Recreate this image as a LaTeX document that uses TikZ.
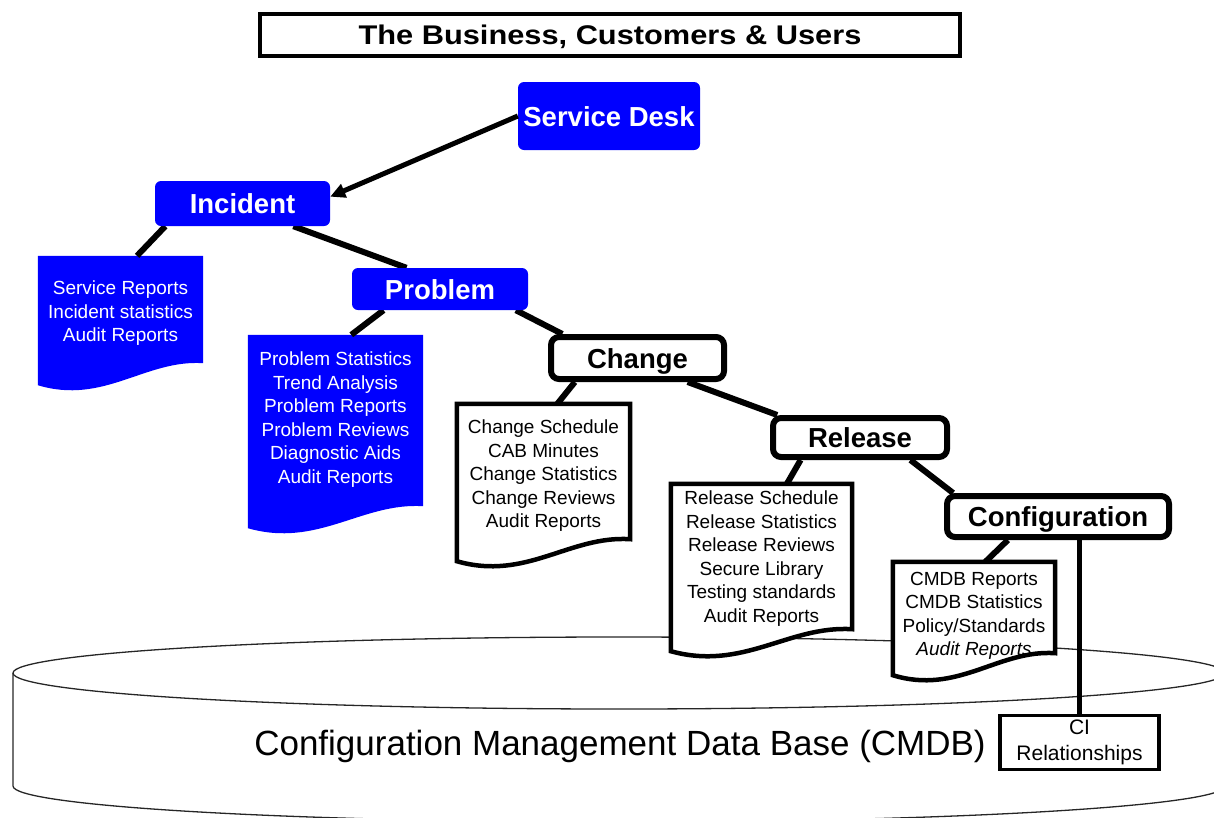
\documentclass[tikz,border=0pt]{standalone}
\usepackage{fontspec}
\usepackage{graphicx}
\setmainfont{Liberation Sans}
\usetikzlibrary{calc, backgrounds, arrows.meta}

\definecolor{itilblue}{RGB}{0,0,255}

\tikzset{
  titlebox/.style={draw, line width=4pt, minimum width=700pt, minimum height=42pt, inner sep=0pt,
    font=\fontsize{27}{30}\selectfont\bfseries, text height=19.5pt, text depth=0pt},
  process/.style={rounded corners=6pt, fill=itilblue, text=white, inner sep=0pt,
    font=\fontsize{27.5}{30}\selectfont\bfseries, text height=20pt, text depth=0pt},
  processw/.style={rounded corners=8pt, draw=black, line width=6pt, fill=white, inner sep=0pt,
    font=\fontsize{27.5}{30}\selectfont\bfseries, text height=20pt, text depth=0pt},
  doc/.style={inner sep=0pt},
  doctext/.style={anchor=north, align=center, inner sep=0pt, font=\fontsize{19}{23.5}\selectfont},
  bluedoc/.style={fill=itilblue},
  whitedoc/.style={fill=white, draw=black, line width=4.5pt},
  cibox/.style={draw, line width=3.5pt, fill=white, minimum width=159pt, minimum height=54pt,
    inner sep=0pt, align=center, font=\fontsize{21}{26}\selectfont},
  cmdbline/.style={draw=black!85, line width=1.3pt},
  link/.style={line width=6pt}
}

\begin{document}
\begin{tikzpicture}[x=1pt, y=-1pt]
\useasboundingbox (0,0) rectangle (1214,817);

% processes
\node[titlebox] (biz) at (610,35) {\scalebox{1.14}[1]{The Business, Customers \& Users}};
\node[process, minimum width=182pt, minimum height=68pt] (desk) at (609,116) {Service Desk};
\node[process, minimum width=175pt, minimum height=45pt] (inc) at (242.5,203.5) {Incident};
\node[process, minimum width=176pt, minimum height=42pt] (prob) at (440,289) {Problem};
\node[processw, minimum width=173pt, minimum height=42pt] (chg) at (637.5,358) {Change};
\node[processw, minimum width=174pt, minimum height=39pt] (rel) at (860,437.5) {Release};
\node[processw, minimum width=222pt, minimum height=41pt] (conf) at (1058,516.5) {Configuration};

% report sheets
\node[doc, minimum width=165pt, minimum height=129pt,
  label={[doctext, text=white, yshift=-25pt]north:Service Reports\\Incident statistics\\Audit Reports}]
  (incdoc) at (120.5,320.5) {};
\node[doc, minimum width=175pt, minimum height=193pt,
  label={[doctext, text=white, yshift=-17pt]north:Problem Statistics\\Trend Analysis\\Problem Reports\\Problem Reviews\\Diagnostic Aids\\Audit Reports}]
  (probdoc) at (335.5,431.5) {};
\node[doc, minimum width=173pt, minimum height=157pt,
  label={[doctext, yshift=-16pt]north:Change Schedule\\CAB Minutes\\Change Statistics\\Change Reviews\\Audit Reports}]
  (chgdoc) at (543.5,482.5) {};
\node[doc, minimum width=181pt, minimum height=167pt,
  label={[doctext, yshift=-7pt]north:Release Schedule\\Release Statistics\\Release Reviews\\Secure Library\\Testing standards\\Audit Reports}]
  (reldoc) at (761.5,567.5) {};
\node[doc, minimum width=162pt, minimum height=113pt,
  label={[doctext, yshift=-10pt]north:CMDB Reports\\CMDB Statistics\\Policy/Standards\\\textit{Audit Reports}}]
  (confdoc) at (974,618.5) {};

\node[cibox] (ci) at (1079.5,742.5) {CI\\Relationships};
\node[font=\fontsize{35}{39}\selectfont] (cmdb) at (620,746) {Configuration Management Data Base (CMDB)};

\draw[line width=5pt, -{Triangle[length=15pt, width=14pt]}] (desk.west) -- ($(inc.north east)!0.35!(inc.south east)$);

\begin{scope}[on background layer]
  % the database drum
  \begin{scope}
    \clip (0,0) rectangle (1214,817);
    \draw[cmdbline] (619,673) ellipse [x radius=606pt, y radius=36pt];
    \draw[cmdbline] (13,673) -- (13,786) arc[start angle=180, end angle=360, x radius=606pt, y radius=36pt] -- (1225,673);
  \end{scope}
  % sheets with a wavy lower edge
  \foreach \d/\s in {incdoc/bluedoc, probdoc/bluedoc, chgdoc/whitedoc, reldoc/whitedoc, confdoc/whitedoc}
    \path[\s] (\d.north west) -- (\d.north east) -- ($(\d.south east)+(0,-22)$)
      .. controls ($(\d.south east)!0.35!(\d.south west)+(0,-26)$) and ($(\d.south west)!0.4!(\d.south east)+(0,20)$) .. (\d.south west) -- cycle;
  \draw[link] ($(inc.south west)!0.06!(inc.south east)$) -- ($(incdoc.north west)!0.6!(incdoc.north east)$);
  \draw[link] ($(inc.south west)!0.79!(inc.south east)$) -- ($(prob.north west)!0.31!(prob.north east)$);
  \draw[link] ($(prob.south west)!0.18!(prob.south east)$) -- ($(probdoc.north west)!0.59!(probdoc.north east)$);
  \draw[link] ($(prob.south west)!0.93!(prob.south east)$) -- ($(chg.north west)!0.08!(chg.north east)$);
  \draw[link] ($(chg.south west)!0.15!(chg.south east)$) -- ($(chgdoc.north west)!0.58!(chgdoc.north east)$);
  \draw[link] ($(chg.south west)!0.78!(chg.south east)$) -- ($(rel.north west)!0.04!(rel.north east)$);
  \draw[link] ($(rel.south west)!0.17!(rel.south east)$) -- ($(reldoc.north west)!0.64!(reldoc.north east)$);
  \draw[link] ($(rel.south west)!0.78!(rel.south east)$) -- ($(conf.north west)!0.04!(conf.north east)$);
  \draw[link] ($(conf.south west)!0.28!(conf.south east)$) -- ($(confdoc.north west)!0.57!(confdoc.north east)$);
  \draw[link, line width=5pt] (ci.north |- conf.south) -- (ci.north);
\end{scope}
\end{tikzpicture}
\end{document}
